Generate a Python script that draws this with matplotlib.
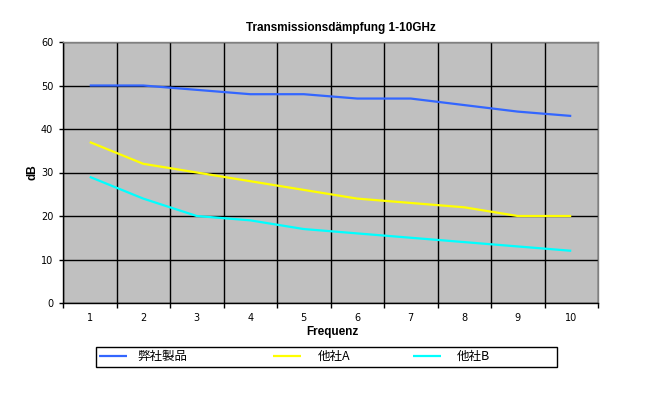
import matplotlib
matplotlib.use("Agg")
import matplotlib.pyplot as plt
from matplotlib.ticker import FixedLocator
from matplotlib.patches import Rectangle

categories = [1, 2, 3, 4, 5, 6, 7, 8, 9, 10]
ours = [50, 50, 49, 48, 48, 47, 47, 45.5, 44, 43]
other_a = [37, 32, 30, 28, 26, 24, 23, 22, 20, 20]
other_b = [29, 24, 20, 19, 17, 16, 15, 14, 13, 12]
series_names = ["弊社製品", "他社A", "他社B"]
colors = ["#3366FF", "#FFFF00", "#00FFFF"]

W, H = 659, 396
fig = plt.figure(figsize=(W / 100, H / 100), dpi=100)
ax = fig.add_axes([63 / W, 1 - 303 / H, (598 - 63) / W, (303 - 42) / H])
ax.set_facecolor("#C0C0C0")

xs = list(range(len(categories)))
handles = []
for vals, c, n in zip([ours, other_a, other_b], colors, series_names):
    h, = ax.plot(xs, vals, color=c, lw=1.6, label=n, solid_capstyle="butt")
    handles.append(h)

ax.set_xlim(-0.5, len(categories) - 0.5)
ax.set_ylim(0, 60)
ax.set_yticks(range(0, 61, 10))
ax.set_xticks(xs)
ax.set_xticklabels([str(c) for c in categories])
ax.xaxis.set_minor_locator(FixedLocator([i - 0.5 for i in range(len(categories) + 1)]))
ax.tick_params(axis="x", which="major", length=0, pad=7.5, labelsize=7)
ax.tick_params(axis="x", which="minor", length=3.5, width=1, color="black", direction="out")
ax.tick_params(axis="y", which="major", length=3, width=1, color="black", direction="out", labelsize=7, pad=4)
ax.grid(True, which="minor", axis="x", color="black", lw=1)
ax.grid(True, which="major", axis="y", color="black", lw=1)
ax.set_axisbelow(True)
for s in ["top", "right"]:
    ax.spines[s].set_color("#808080")
    ax.spines[s].set_linewidth(1)
for s in ["left", "bottom"]:
    ax.spines[s].set_color("black")
    ax.spines[s].set_linewidth(1)

fam = ["Liberation Sans", "DejaVu Sans"]
fig.text(341 / W, 1 - 28 / H, "Transmissionsdämpfung 1-10GHz", ha="center", va="center",
         fontsize=8.5, fontweight="bold", family=fam)
fig.text(332 / W, 1 - 332 / H, "Frequenz", ha="center", va="center",
         fontsize=8.5, fontweight="bold", family=fam)
fig.text(32 / W, 1 - 172 / H, "dB", ha="center", va="center", rotation=90,
         fontsize=8.5, fontweight="bold", family=fam)

# legend frame
fig.add_artist(Rectangle((96 / W, 1 - 367 / H), (557 - 96) / W, (367 - 347) / H,
                         transform=fig.transFigure, fill=False, edgecolor="black", lw=1))
fs = 9
em = fs * 100 / 72
entry_x = [99, 273, 413]
text_gap = [10, 17, 16]
for h, n, x0, g in zip(handles, series_names, entry_x, text_gap):
    fig.legend(handles=[h], labels=[n], loc="center left",
               bbox_to_anchor=(x0 / W, 1 - 356.5 / H), frameon=False,
               borderpad=0, borderaxespad=0, handlelength=28 / em,
               handletextpad=g / em,
               prop={"family": ["Noto Sans CJK JP", "DejaVu Sans"], "size": fs})

fig.savefig("out.png", dpi=100)
